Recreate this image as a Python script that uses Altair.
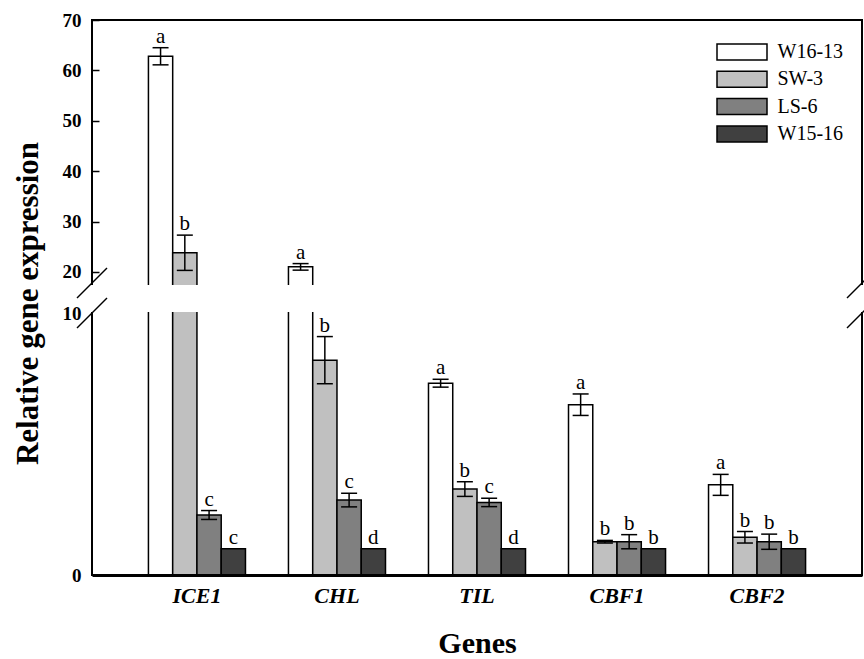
import altair as alt
import pandas as pd

genes = ["ICE1", "CHL", "TIL", "CBF1", "CBF2"]
cultivars = ["W16-13", "SW-3", "LS-6", "W15-16"]
fills = ["#ffffff", "#c0c0c0", "#808080", "#404040"]

mean_w1613 = [62.8, 21.0, 7.32, 6.50, 3.44]
mean_sw3 = [23.8, 8.2, 3.28, 1.27, 1.44]
mean_ls6 = [2.29, 2.86, 2.77, 1.27, 1.27]
mean_w1516 = [1.0, 1.0, 1.0, 1.0, 1.0]

err_w1613 = [1.7, 0.65, 0.15, 0.41, 0.40]
err_sw3 = [3.5, 0.90, 0.28, 0.05, 0.22]
err_ls6 = [0.17, 0.26, 0.16, 0.27, 0.29]
err_w1516 = [0.0, 0.0, 0.0, 0.0, 0.0]

let_w1613 = ["a", "a", "a", "a", "a"]
let_sw3 = ["b", "b", "b", "b", "b"]
let_ls6 = ["c", "c", "c", "b", "b"]
let_w1516 = ["c", "d", "d", "b", "b"]

y_ticks = [0, 10, 20, 30, 40, 50, 60, 70]
inner_ticks = [20, 30, 40, 50, 60, 70]
break_domain = [0, 10, 17.6, 70]

means = [mean_w1613, mean_sw3, mean_ls6, mean_w1516]
errs = [err_w1613, err_sw3, err_ls6, err_w1516]
lets = [let_w1613, let_sw3, let_ls6, let_w1516]

rows = []
for ci, c in enumerate(cultivars):
    for gi, g in enumerate(genes):
        m = means[ci][gi]
        e = errs[ci][gi]
        rows.append({"gene": g, "cultivar": c, "mean": m, "err": e,
                     "lo": m - e, "hi": m + e, "letter": lets[ci][gi]})
df = pd.DataFrame(rows)
one = pd.DataFrame({"k": [0]})

W, H = 770, 555
FONT = "Liberation Serif"
y_scale = alt.Scale(domain=break_domain, range=[H, 293, 264, 0], nice=False, zero=False)

x_enc = alt.X("gene:N", sort=genes,
              scale=alt.Scale(paddingInner=0.307, paddingOuter=0.403),
              axis=alt.Axis(title="Genes", labelFont=FONT, labelFontStyle="italic",
                            labelFontWeight="bold", labelFontSize=22, labelPadding=10,
                            labelColor="black", labelAngle=0, ticks=False,
                            domainWidth=3, domainColor="black",
                            titleFont=FONT, titleFontSize=30, titleFontWeight="bold",
                            titleColor="black", titlePadding=22, zindex=1))
xo_enc = alt.XOffset("cultivar:N", sort=cultivars,
                     scale=alt.Scale(paddingInner=0, paddingOuter=0))

left_axis = alt.Axis(values=y_ticks, title="Relative gene expression", labelFont=FONT,
                     labelFontWeight="bold", labelFontSize=19, labelPadding=11,
                     labelColor="black", labelOverlap=False, ticks=False, domain=False,
                     grid=False, titleFont=FONT, titleFontSize=31, titleFontWeight="bold",
                     titleColor="black", titleX=-64, titleY=283, titleAngle=270,
                     titleBaseline="middle", titleAlign="center")

bars = alt.Chart(df).mark_bar(stroke="black", strokeWidth=1.5).encode(
    x=x_enc, xOffset=xo_enc,
    y=alt.Y("mean:Q", scale=y_scale, axis=left_axis),
    color=alt.Color("cultivar:N", sort=cultivars,
                    scale=alt.Scale(domain=cultivars, range=fills),
                    legend=alt.Legend(title=None, orient="none", legendX=636.5, legendY=18.5,
                                      symbolType="M-2,-0.64H2V0.64H-2Z", symbolSize=625,
                                      symbolStrokeColor="black", symbolStrokeWidth=1.5,
                                      symbolOpacity=1, labelFont=FONT, labelFontSize=20,
                                      labelColor="black", labelOffset=22, rowPadding=2.3,
                                      padding=0)),
)

rules = alt.Chart(df).transform_filter("datum.err > 0").mark_rule(
    color="black", strokeWidth=1.5).encode(
    x=x_enc, xOffset=xo_enc,
    y=alt.Y("lo:Q", scale=y_scale, axis=None), y2="hi:Q")

cap_lo = alt.Chart(df).transform_filter("datum.err > 0").mark_tick(
    color="black", thickness=1.5, size=16, opacity=1).encode(
    x=x_enc, xOffset=xo_enc, y=alt.Y("lo:Q", scale=y_scale, axis=None))

cap_hi = alt.Chart(df).transform_filter("datum.err > 0").mark_tick(
    color="black", thickness=1.5, size=16, opacity=1).encode(
    x=x_enc, xOffset=xo_enc,
    y=alt.Y("hi:Q", scale=y_scale,
            axis=alt.Axis(orient="right", offset=-W, values=inner_ticks, labels=False,
                          domain=False, ticks=True, tickSize=7, tickWidth=1.5,
                          tickColor="black", grid=False, title=None)))

letters = alt.Chart(df).mark_text(font=FONT, fontSize=21, baseline="alphabetic",
                                  dy=-5, color="black").encode(
    x=x_enc, xOffset=xo_enc, y=alt.Y("hi:Q", scale=y_scale, axis=None),
    text="letter:N")

gap = alt.Chart(one).mark_rect(color="white", opacity=1).encode(
    x=alt.value(-4), x2=alt.value(W + 4), y=alt.value(265), y2=alt.value(292))

def slash(x1, y1, x2, y2):
    return alt.Chart(one).mark_rule(color="black", strokeWidth=1.5).encode(
        x=alt.value(x1), y=alt.value(y1), x2=alt.value(x2), y2=alt.value(y2))

slashes = [slash(-15, 278, 15, 248), slash(-15, 308, 15, 278),
           slash(W - 15, 278, W + 15, 248), slash(W - 15, 308, W + 15, 278)]

chart = alt.layer(bars, rules, cap_lo, cap_hi, letters, gap, *slashes).resolve_axis(
    y="independent").properties(
    width=W, height=H,
    autosize=alt.AutoSizeParams(type="none"),
    padding={"left": 92, "top": 20, "right": 2, "bottom": 84},
).configure_view(stroke="black", strokeWidth=2).configure_legend(
    labelFont=FONT, labelFontSize=20)

chart.save("out.html", embed_options={"renderer": "svg", "actions": False})
